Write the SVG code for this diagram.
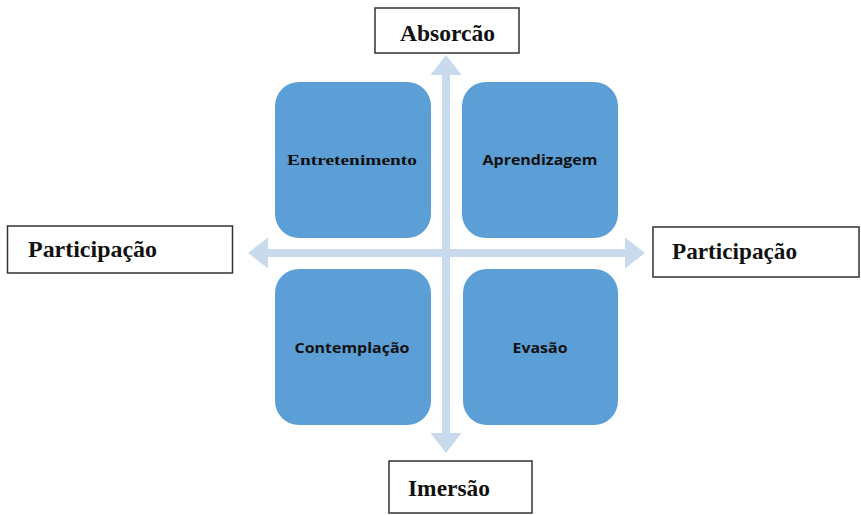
<svg xmlns="http://www.w3.org/2000/svg" width="861" height="515" viewBox="0 0 861 515">
<style>
.q{fill:#5B9FD6;}
.ql{font-family:"Open Sans","Noto Sans",sans-serif;font-weight:bold;font-size:15px;fill:#111;text-anchor:middle;}
.qs{font-family:"Liberation Serif",serif;font-weight:bold;font-size:15px;fill:#111;text-anchor:middle;}
.ax{fill:#fff;stroke:#333;stroke-width:1.5;}
.at{font-family:"Liberation Serif",serif;font-weight:bold;font-size:23px;fill:#111;}
.arr{fill:#C9DAEC;}
</style>
<rect width="861" height="515" fill="#fff"/>
<g id="connectors">
<path class="arr" d="M248,253 L268,237.5 L268,249 L625,249 L625,237.5 L645,253 L625,268.5 L625,257 L268,257 L268,268.5 Z"/>
<path class="arr" d="M446,55 L461.5,75 L450,75 L450,433 L461.5,433 L446,453 L430.5,433 L442,433 L442,75 L430.5,75 Z"/>
</g>
<g id="entretenimento"><rect class="q" x="275" y="82" width="156" height="156" rx="24"/><text class="qs" x="352" y="165" textLength="130" lengthAdjust="spacingAndGlyphs">Entretenimento</text></g>
<g id="aprendizagem"><rect class="q" x="462" y="82" width="156" height="156" rx="24"/><text class="ql" x="540" y="165" textLength="115" lengthAdjust="spacingAndGlyphs">Aprendizagem</text></g>
<g id="contemplacao"><rect class="q" x="275" y="269" width="156" height="156" rx="24"/><text class="ql" x="352" y="353" textLength="115" lengthAdjust="spacingAndGlyphs">Contemplação</text></g>
<g id="evasao"><rect class="q" x="463" y="269" width="155" height="156" rx="24"/><text class="ql" x="540" y="353" textLength="55" lengthAdjust="spacingAndGlyphs">Evasão</text></g>
<g id="absorcao"><rect class="ax" x="375" y="8" width="144" height="45"/><text class="at" x="400" y="41" textLength="95" lengthAdjust="spacingAndGlyphs">Absorcão</text></g>
<g id="participacao-left"><rect class="ax" x="7.5" y="226" width="225" height="47"/><text class="at" x="28" y="257" textLength="129" lengthAdjust="spacingAndGlyphs">Participação</text></g>
<g id="participacao-right"><rect class="ax" x="653" y="227" width="206" height="50"/><text class="at" x="672" y="259" textLength="125" lengthAdjust="spacingAndGlyphs">Participação</text></g>
<g id="imersao"><rect class="ax" x="389" y="461" width="143" height="52"/><text class="at" x="408" y="496" textLength="82" lengthAdjust="spacingAndGlyphs">Imersão</text></g>
</svg>
